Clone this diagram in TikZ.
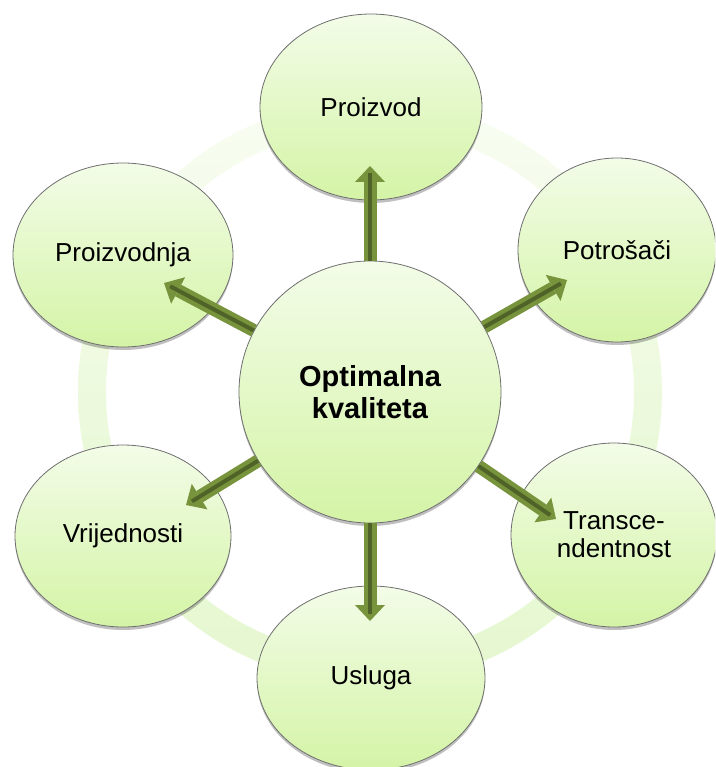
\documentclass[tikz,border=0pt]{standalone}
\usepackage{fontspec}
\setmainfont{Liberation Sans}
\usetikzlibrary{shapes.geometric,arrows.meta,shadows}
\definecolor{fillTop}{HTML}{F3FCE8}
\definecolor{fillBot}{HTML}{D4F4A6}
\definecolor{outl}{HTML}{6F6F6F}
\definecolor{arrowG}{HTML}{77933C}
\definecolor{arrowD}{HTML}{4F6228}
\definecolor{ringTA}{HTML}{F8FDF2}
\definecolor{ringTB}{HTML}{E3F7CA}
\definecolor{ringBA}{HTML}{F4FCEB}
\definecolor{ringBB}{HTML}{E5F7D0}
\begin{document}
\begin{tikzpicture}[x=1pt,y=-1pt,
  bubble/.style={ellipse, draw=outl, line width=0.8pt, top color=fillTop, bottom color=fillBot,
    drop shadow={shadow xshift=0pt, shadow yshift=-3pt, opacity=0.25, fill=black},
    font=\fontsize{26}{28}\selectfont, align=center, inner sep=0pt},
  hub/.style={circle, draw=outl, line width=0.8pt, top color=fillTop, bottom color=fillBot,
    drop shadow={shadow xshift=0pt, shadow yshift=-3pt, opacity=0.25, fill=black},
    minimum size=262pt, inner sep=0pt, align=center, font=\bfseries\fontsize{29}{32}\selectfont},
  blockarrow/.style={line width=13pt, draw=arrowG, -{Triangle[width=30pt,length=16pt,line width=0pt]}},
  stripe/.style={line width=4pt, draw=arrowD, shorten >=7pt}
]
\useasboundingbox (0,0) rectangle (715,767);
\clip (0,0) rectangle (715,767);
% background ring
\begin{scope}
  \clip (0,0) rectangle (715,392);
  \shade[even odd rule, top color=ringTA, bottom color=ringTB]
    (370,392) circle[radius=292pt] (370,392) circle[radius=264pt];
\end{scope}
\begin{scope}
  \clip (0,392) rectangle (715,767);
  \shade[even odd rule, top color=ringBA, bottom color=ringBB]
    (370,392) circle[radius=292pt] (370,392) circle[radius=264pt];
\end{scope}
% nodes
\node[bubble, minimum width=222pt, minimum height=186pt] (p1) at (371,107) {Proizvod};
\node[bubble, minimum width=198pt, minimum height=184pt] (p2) at (617,250) {Potrošači};
\node[bubble, minimum width=206pt, minimum height=184pt] (p3) at (614,535) {Transce-\\ndentnost};
\node[bubble, minimum width=228pt, minimum height=184pt] (p4) at (371,678) {Usluga};
\node[bubble, minimum width=216pt, minimum height=182pt] (p5) at (123,536) {Vrijednosti};
\node[bubble, minimum width=220pt, minimum height=184pt] (p6) at (123,255) {Proizvodnja};
\node[hub] (c) at (370,392) {Optimalna\\kvaliteta};
% arrow tips
\coordinate (t1) at (370,166);
\coordinate (t2) at (567,280);
\coordinate (t3) at (556,519);
\coordinate (t4) at (370,621);
\coordinate (t5) at (186,505);
\coordinate (t6) at (164,283);
\foreach \t in {t1,t2,t3,t4,t5,t6}{
  \draw[blockarrow] (c) -- (\t);
  \draw[stripe] (c) -- (\t);
}
\end{tikzpicture}
\end{document}
